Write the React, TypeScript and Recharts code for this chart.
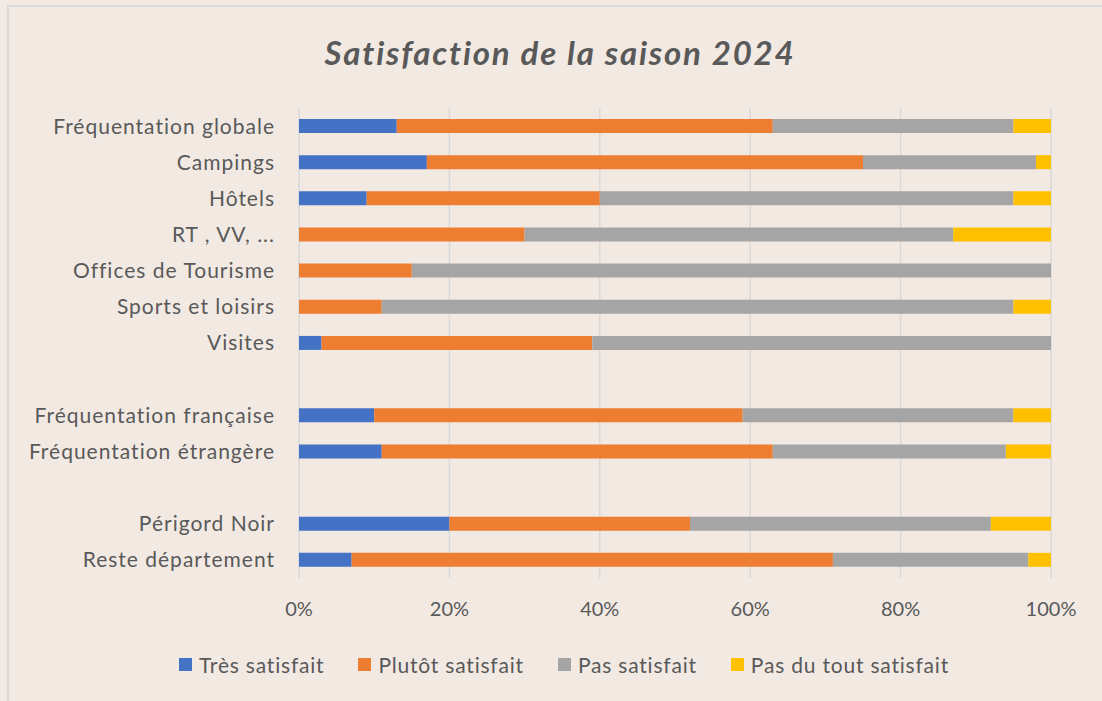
import React from "react";
import { BarChart, Bar, XAxis, YAxis, CartesianGrid, Legend } from "recharts";

const categories = [
  "Fréquentation globale",
  "Campings",
  "Hôtels",
  "RT , VV, ...",
  "Offices de Tourisme",
  "Sports et loisirs",
  "Visites",
  "",
  "Fréquentation française",
  "Fréquentation étrangère",
  "",
  "Périgord Noir",
  "Reste département",
];
const tresSatisfait = [13, 17, 9, 0, 0, 0, 3, null, 10, 11, null, 20, 7];
const plutotSatisfait = [50, 58, 31, 30, 15, 11, 36, null, 49, 52, null, 32, 64];
const pasSatisfait = [32, 23, 55, 57, 85, 84, 61, null, 36, 31, null, 40, 26];
const pasDuTout = [5, 2, 5, 13, 0, 5, 0, null, 5, 6, null, 8, 3];
const xTicks = [0, 20, 40, 60, 80, 100];

const seriesNames = ["Très satisfait", "Plutôt satisfait", "Pas satisfait", "Pas du tout satisfait"];
const seriesColors = ["#4472C4", "#ED7D31", "#A5A5A5", "#FFC000"];

const data = categories.map((c, i) => ({
  name: c,
  s0: tresSatisfait[i],
  s1: plutotSatisfait[i],
  s2: pasSatisfait[i],
  s3: pasDuTout[i],
}));

const FONT = "Lato, sans-serif";
const TXT = "#595959";

const LegendContent = () => (
  <div style={{ display: "flex", justifyContent: "center", gap: 34, paddingLeft: 68, fontFamily: FONT, fontSize: 21, letterSpacing: 0.8, color: TXT, height: 26, alignItems: "center" }}>
    {seriesNames.map((n, i) => (
      <div key={n} style={{ display: "flex", alignItems: "center" }}>
        <span style={{ display: "inline-block", width: 13, height: 13, background: seriesColors[i], marginRight: 7 }} />
        <span>{n}</span>
      </div>
    ))}
  </div>
);

export default function App() {
  return (
    <div style={{ position: "fixed", inset: 0, background: "#F2E9E3", overflow: "hidden" }}>
      <div
        style={{
          position: "absolute",
          left: 7,
          top: 5,
          width: 1120,
          height: 720,
          borderLeft: "2px solid #D9D9D9",
          borderTop: "2px solid #D9D9D9",
        }}
      >
        <div
          style={{
            position: "absolute",
            left: 0,
            width: 1102,
            top: 25,
            textAlign: "center",
            fontFamily: FONT,
            fontWeight: 700,
            fontStyle: "italic",
            fontSize: 33,
            letterSpacing: 1.8,
            color: TXT,
          }}
        >
          Satisfaction de la saison 2024
        </div>
        <div style={{ position: "absolute", left: 0, top: 0 }}>
          <BarChart
            width={1110}
            height={690}
            data={data}
            layout="vertical"
            barSize={14}
            margin={{ top: 101, right: 68, bottom: 63, left: 0 }}
          >
            <CartesianGrid horizontal={false} vertical stroke="#D9D9D9" strokeWidth={1.5} />
            <XAxis
              type="number"
              domain={[0, 100]}
              ticks={xTicks}
              tickFormatter={(v) => `${v}%`}
              axisLine={false}
              tickLine={false}
              tickSize={0}
              tickMargin={24}
              tick={{ fill: TXT, fontSize: 20, fontFamily: FONT }}
              interval={0}
            />
            <YAxis
              type="category"
              dataKey="name"
              width={290}
              axisLine={false}
              tickLine={false}
              tickSize={0}
              tickMargin={24}
              interval={0}
              tick={{ fill: TXT, fontSize: 21, fontFamily: FONT, letterSpacing: 1 }}
            />
            <Legend content={<LegendContent />} verticalAlign="bottom" wrapperStyle={{ bottom: 20 }} />
            {seriesNames.map((n, i) => (
              <Bar
                key={n}
                dataKey={`s${i}`}
                name={n}
                stackId="a"
                fill={seriesColors[i]}
                isAnimationActive={false}
              />
            ))}
          </BarChart>
        </div>
      </div>
    </div>
  );
}
